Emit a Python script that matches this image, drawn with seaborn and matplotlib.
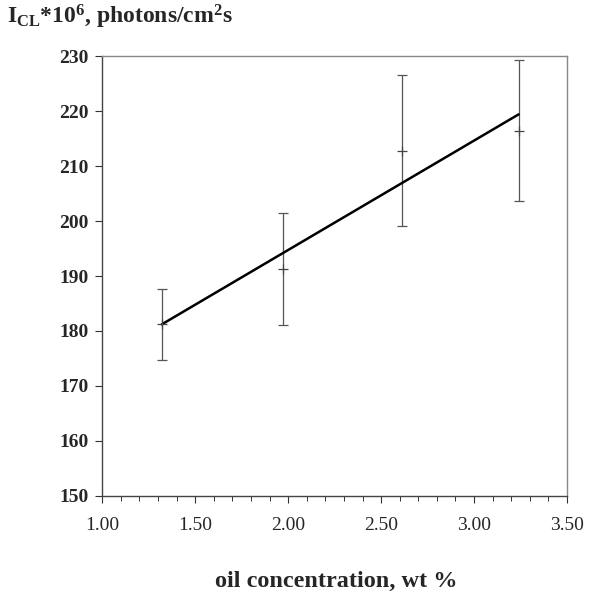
import matplotlib
matplotlib.use("Agg")
import matplotlib.pyplot as plt
import seaborn as sns
import numpy as np
import pandas as pd
from matplotlib.ticker import MultipleLocator, FormatStrFormatter

# Data
oil_conc = [1.32, 1.97, 2.61, 3.24]
intensity = [181.2, 191.2, 212.8, 216.4]
intensity_err = [6.4, 10.2, 13.7, 12.8]
x_ticks = [1.00, 1.50, 2.00, 2.50, 3.00, 3.50]
y_ticks = [150, 160, 170, 180, 190, 200, 210, 220, 230]

df = pd.DataFrame({"oil": oil_conc, "icl": intensity, "err": intensity_err})

sns.set_theme(style="white")
plt.rcParams["font.family"] = ["Liberation Serif", "DejaVu Serif"]
plt.rcParams["mathtext.fontset"] = "custom"
plt.rcParams["mathtext.rm"] = "Liberation Serif:bold"
plt.rcParams["mathtext.bf"] = "Liberation Serif:bold"
plt.rcParams["mathtext.it"] = "Liberation Serif:bold"

fig = plt.figure(figsize=(5.91, 5.94), dpi=100)
ax = fig.add_axes([0.1731, 0.165, 0.9594 - 0.1731, 0.9057 - 0.165])

# error bars
ax.errorbar(df["oil"], df["icl"], yerr=df["err"], fmt="none",
            ecolor="#555555", elinewidth=0.9, capsize=3.6, capthick=0.9, zorder=2)
# mean markers
sns.scatterplot(data=df, x="oil", y="icl", marker="+", s=45, color="#444444",
                linewidth=0.9, ax=ax, zorder=3)
# linear fit line
sns.regplot(data=df, x="oil", y="icl", ci=None, scatter=False, truncate=True,
            line_kws={"color": "black", "linewidth": 1.8}, ax=ax)

ax.set_xlim(1.0, 3.5)
ax.set_ylim(150, 230)
ax.set_xticks(x_ticks)
ax.set_yticks(y_ticks)
ax.xaxis.set_major_formatter(FormatStrFormatter("%.2f"))
ax.xaxis.set_minor_locator(MultipleLocator(0.1))
ax.tick_params(axis="x", which="major", direction="out", length=5, width=0.8,
               color="#333333", labelsize=14, pad=10, bottom=True)
ax.tick_params(axis="x", which="minor", direction="out", length=3.5, width=0.7,
               color="#333333", bottom=True)
ax.tick_params(axis="y", which="major", direction="out", length=5, width=0.8,
               color="#333333", labelsize=14, pad=5, left=True)
for lab in ax.get_yticklabels():
    lab.set_fontweight("bold")
for lab in ax.get_xticklabels():
    lab.set_fontweight("normal")

for side in ["left", "bottom"]:
    ax.spines[side].set_color("#444444")
    ax.spines[side].set_linewidth(1.0)
for side in ["top", "right"]:
    ax.spines[side].set_color("#888888")
    ax.spines[side].set_linewidth(1.0)

ax.set_xlabel("")
ax.set_ylabel("")

fig.text(0.012, 0.9596, r"I$_{\mathrm{CL}}$*10$^{\mathrm{6}}$, photons/cm$^{\mathrm{2}}$s",
         fontsize=17, fontweight="bold", ha="left", va="baseline")
fig.text(0.569, 0.012, "oil concentration, wt %", fontsize=17.5,
         fontweight="bold", ha="center", va="baseline")

fig.savefig("out.png", dpi=100)
